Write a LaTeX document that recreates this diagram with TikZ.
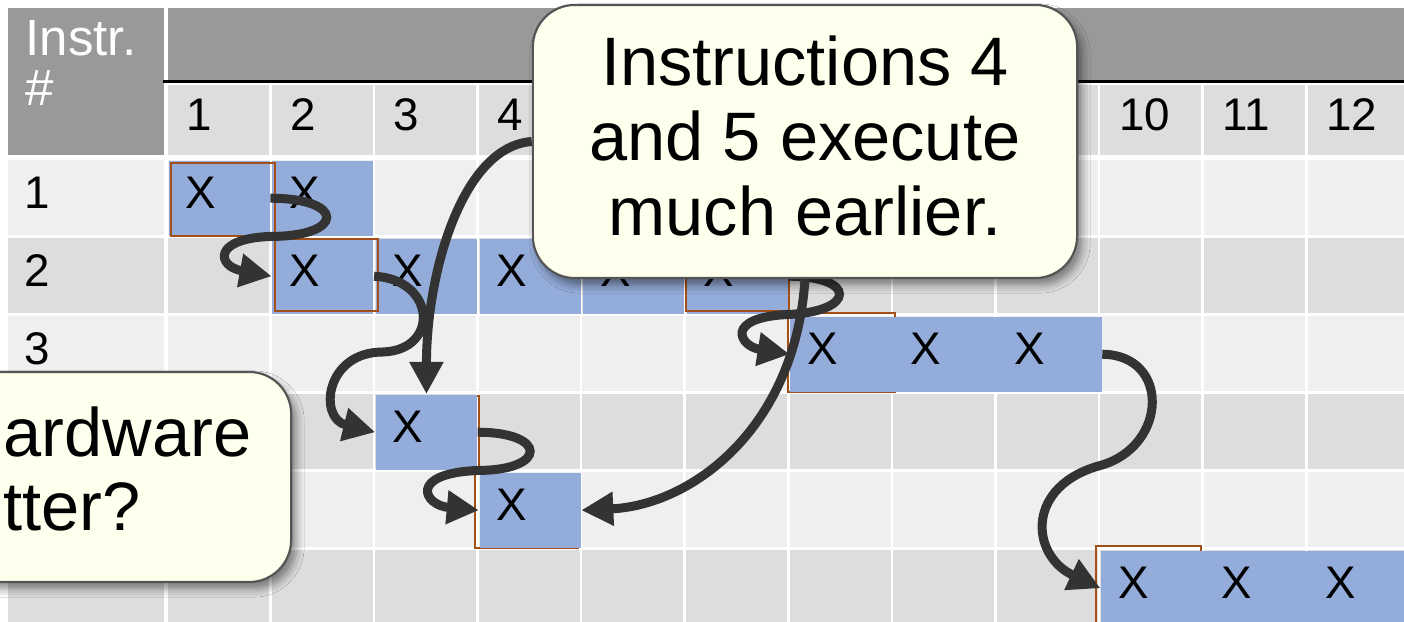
\documentclass[tikz,border=0pt]{standalone}
\usepackage{fontspec}
\setmainfont{Liberation Sans}
\usetikzlibrary{arrows.meta,shadows.blur}

\definecolor{headgray}{RGB}{153,153,153}
\definecolor{rowlight}{RGB}{239,239,239}
\definecolor{rowdark}{RGB}{221,221,221}
\definecolor{xblue}{RGB}{148,172,217}
\definecolor{hotline}{RGB}{163,80,24}
\definecolor{linkgray}{RGB}{51,51,51}
\definecolor{noteyellow}{RGB}{255,255,238}
\definecolor{noteedge}{RGB}{85,85,85}

\begin{document}
\begin{tikzpicture}[x=0.01cm,y=-0.01cm,
	xcell/.style={anchor=north west,fill=xblue,minimum height=0.75cm,text width=0.67cm,inner xsep=0.17cm,inner ysep=0pt,align=left,font=\fontsize{13}{15}\selectfont,text height=0.33cm,text depth=0.12cm},
	xwide/.style={xcell,text width=0.7cm},
	lbl/.style={anchor=west,inner sep=0pt,font=\fontsize{13}{15}\selectfont,text height=0.33cm,text depth=0.12cm},
	hot/.style={draw=hotline,line width=0.022cm},
	link/.style={draw=linkgray,line width=0.09cm,-{Triangle[length=0.32cm,width=0.32cm]}},
	note/.style={draw=noteedge,line width=0.022cm,fill=noteyellow,rounded corners=0.42cm,blur shadow={shadow xshift=0.05cm,shadow yshift=-0.07cm,shadow blur radius=0.08cm,shadow opacity=45}},
	say/.style={font=\fontsize{19.5}{21.3}\selectfont}]
					\useasboundingbox (0,0) rectangle (1404,622);
					\fill[white] (0,0) rectangle (1404,622);
					\fill[headgray] (8,8) rectangle (164,155);
					\fill[headgray] (168,8) rectangle (1404,80);
					\draw[line width=0.03cm] (163,82) -- (1404,82);
					\node[anchor=north west,inner sep=0pt,align=left,text=white,font=\fontsize{14.5}{14.2}\selectfont] (head) at (25,20) {Instr.\\\#};

					\foreach \k in {1,...,12}
						\fill[rowdark] ({168+(\k-1)*103.6},85) rectangle +(101,70);
					\foreach \k in {1,2,3,4,10,11,12}
						\node[lbl] (T\k) at ({186+(\k-1)*103.6},120) {\k};

					\foreach \c [count=\r] in {rowlight,rowdark,rowlight,rowdark,rowlight,rowdark}
					{
						\fill[\c] (8,{160+(\r-1)*78}) rectangle +(156,75);
						\foreach \k in {1,...,12}
							\fill[\c] ({168+(\k-1)*103.6},{160+(\r-1)*78}) rectangle +(101,75);
					}
					\foreach \r in {1,2,3}
						\node[lbl] (R\r) at (24,{197.5+(\r-1)*78}) {\r};

					\draw[hot] (788,313) rectangle (895,392);
					\draw[hot] (378,396) rectangle (479,468);
					\draw[hot] (475,474) rectangle (578,548);
					\draw[hot] (1096,546) rectangle (1201,640);

					\foreach \r/\k in {1/1,1/2,2/2,2/3,2/4,2/5,2/6,4/3,5/4}
						\node[xcell] (X\r-\k) at ({168+(\k-1)*103.6},{160+(\r-1)*78}) {X};
					\foreach \r/\k in {3/7,3/8,3/9,6/10,6/11,6/12}
						\node[xwide] (X\r-\k) at ({168+(\k-1)*103.6},{160+(\r-1)*78}) {X};

					\draw[hot] (171,163) rectangle (275,236);
					\draw[hot] (275,239) rectangle (378,311);
					\draw[hot] (686,240) rectangle (789,311);

					\draw[link] (X1-1.east) .. controls +(75,0) and +(75,0) .. (X1-1.south east)
						.. controls +(-58,2) and +(-55,-10) .. (X2-2.west);
					\draw[link] (X2-2.east) .. controls +(62,3) and (440,350) .. (383,352)
						.. controls (325,352) and +(-57,-14) .. (X4-3.west);
					\draw[link] (X4-3.east) .. controls +(70,0) and +(70,0) .. (X4-3.south east)
						.. controls +(-70,3) and +(-55,-5) .. (X5-4.west);
					\draw[link] (X2-6.east) .. controls +(68,0) and +(68,-3) .. (X2-6.south east)
						.. controls +(-65,3) and +(-50,-8) .. (X3-7.west);
					\draw[link] (X3-9.east) .. controls (1170,355) and (1168,445) .. (1102,465)
						.. controls (1025,485) and (1030,555) .. (X6-10.west);

					\node[note,minimum width=5.71cm,minimum height=2.1cm] (note2) at (5.5,477) {};
					\node[say,anchor=base west,inner sep=0pt] (ask1) at (3,457) {ardware};
					\node[say,anchor=base west,inner sep=0pt] (ask2) at (3,530) {tter?};
					\node[note,minimum width=5.44cm,minimum height=2.73cm,align=center,say,text depth=0.12cm] (note1) at (805,141.5) {Instructions 4\\and 5 execute\\much earlier.};

					\draw[link] (note1.west) .. controls +(-70,5) and +(0,-120) .. (X4-3.north);
					\draw[link] (note1.south) .. controls +(-10,150) and +(110,-5) .. (X5-4.east);
\end{tikzpicture}
\end{document}
